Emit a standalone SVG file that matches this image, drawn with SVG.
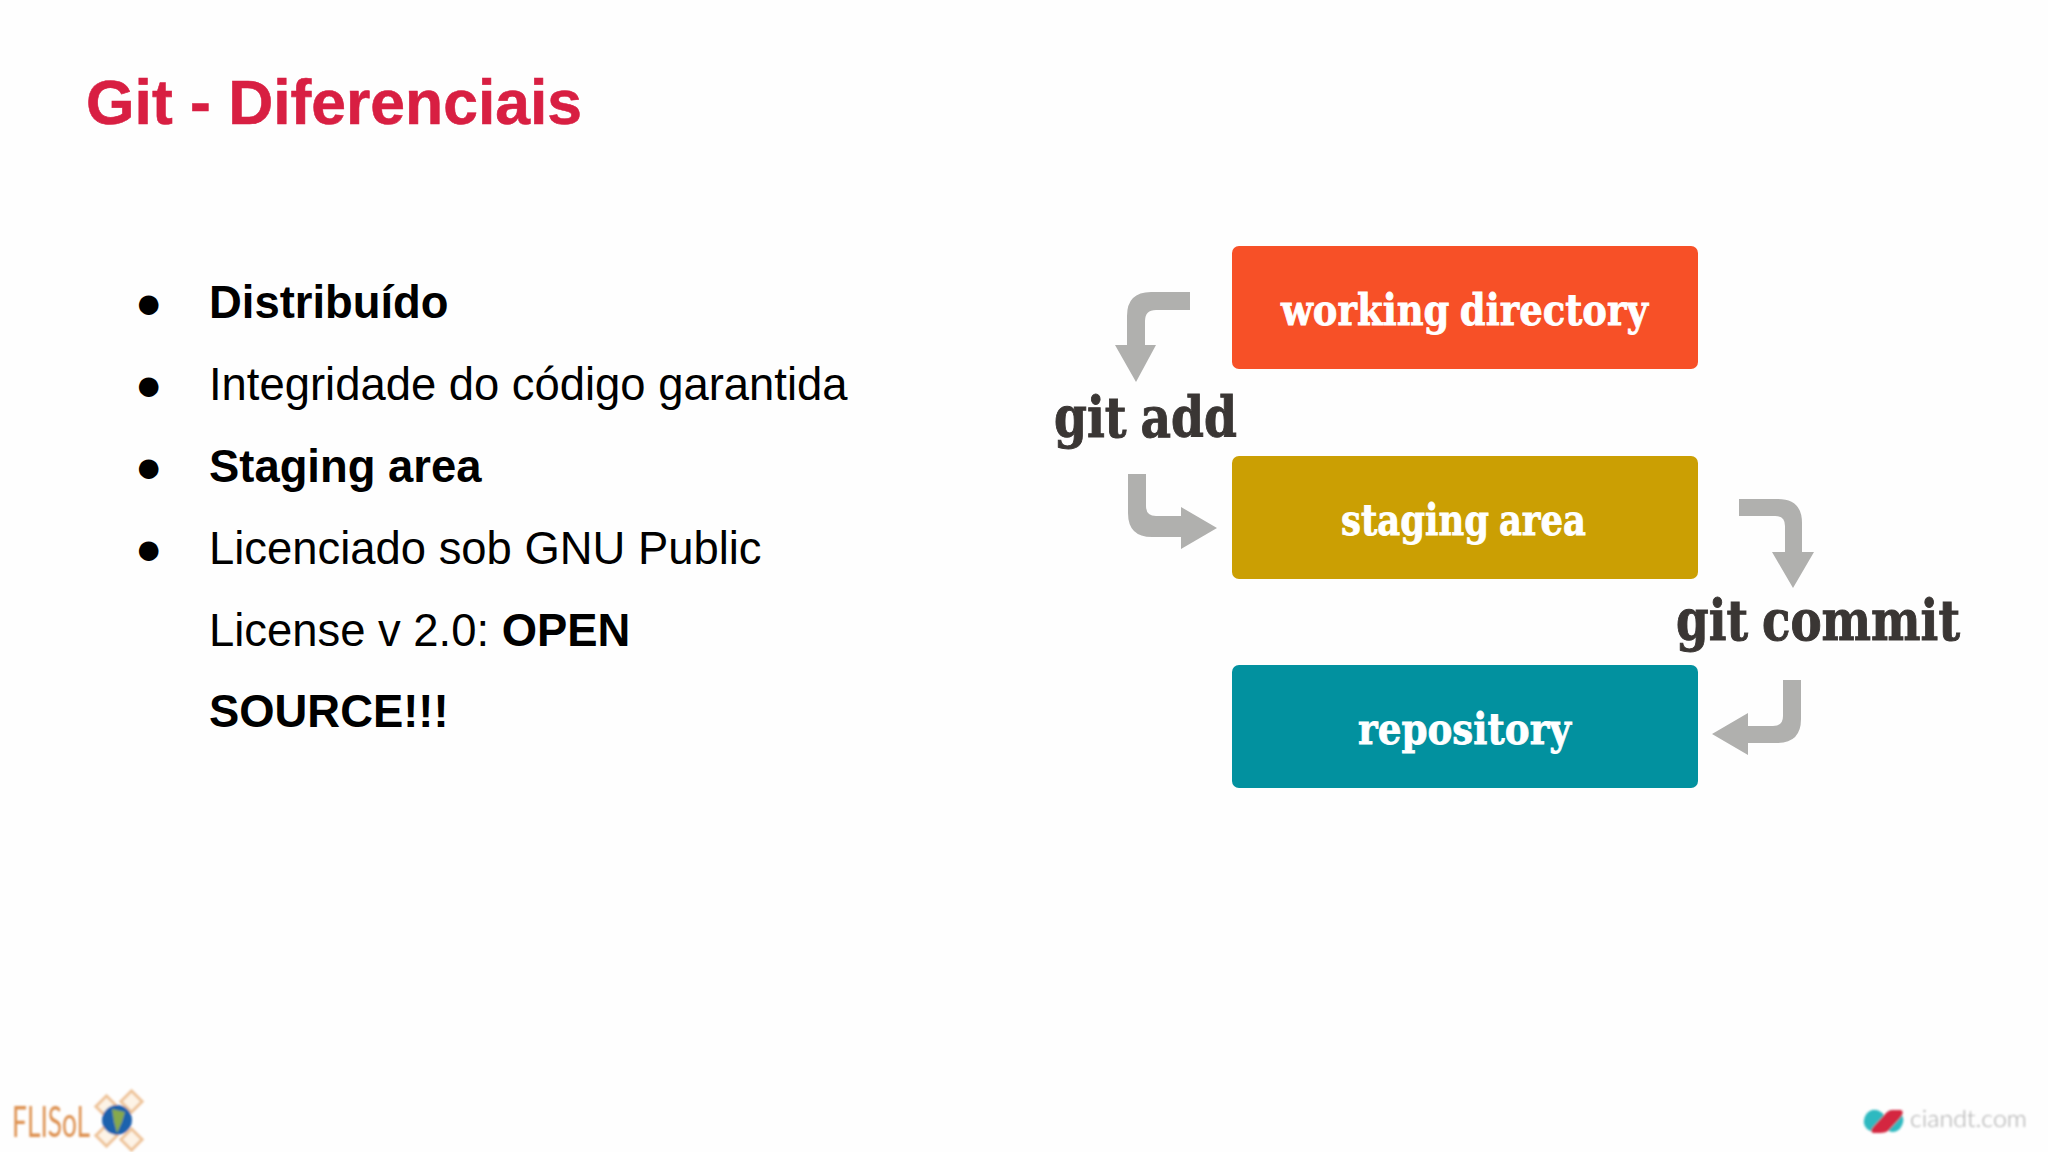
<svg xmlns="http://www.w3.org/2000/svg" width="2048" height="1152" viewBox="0 0 2048 1152">
<style>
.sans{font-family:"Liberation Sans",Arial,sans-serif}
.body{font-size:45.4px;fill:#000}
.b{font-weight:700}
.slab{font-family:"DejaVu Serif",serif;font-weight:700}
.box{font-size:43px;fill:#fff;stroke:#fff;stroke-width:.8;word-spacing:-3px}
.cmd{font-size:56px;fill:#3a3634;stroke:#3a3634;stroke-width:1;word-spacing:-3px}
.arrow{fill:#b0b0ae}
</style>
<defs>
<filter id="soft" x="-10%" y="-10%" width="120%" height="120%"><feGaussianBlur stdDeviation="0.9"/></filter>
</defs>
<rect width="2048" height="1152" fill="#fefefe"/>
<text id="title" class="sans b" x="86" y="124" font-size="63" fill="#d81f42" stroke="#d81f42" stroke-width=".6" textLength="496" lengthAdjust="spacingAndGlyphs">Git - Diferenciais</text>
<g id="bullets" class="sans body">
<text x="135" y="318">●</text>
<text x="135" y="400">●</text>
<text x="135" y="482">●</text>
<text x="135" y="564">●</text>
<text class="b" x="209" y="318">Distribuído</text>
<text x="209" y="400">Integridade do código garantida</text>
<text class="b" x="209" y="482">Staging area</text>
<text x="209" y="564">Licenciado sob GNU Public</text>
<text x="209" y="646">License v 2.0: <tspan class="b">OPEN</tspan></text>
<text class="b" x="209" y="727">SOURCE!!!</text>
</g>
<g id="connectors">
<path class="arrow" d="M1190 292V310H1156Q1145 310 1145 321V345H1156L1136 382L1115 345H1127V316Q1127 292 1151 292Z"/>
<path class="arrow" d="M1128 474H1146V506Q1146 516 1156 516H1181V507L1217 528L1181 549V537H1152Q1128 537 1128 513Z"/>
<path class="arrow" d="M1739 499H1778Q1802 499 1802 523V552H1814L1793 588L1772 552H1785V526Q1785 516 1775 516H1739Z"/>
<path class="arrow" d="M1783 680H1801V719Q1801 743 1777 743H1748V755L1712 734L1748 713V726H1773Q1783 726 1783 716Z"/>
</g>
<g id="working-directory">
<rect x="1232" y="246" width="466" height="123" rx="7" fill="#f75027"/>
<text class="slab box" x="1281" y="325" textLength="367" lengthAdjust="spacingAndGlyphs">working directory</text>
</g>
<g id="staging-area">
<rect x="1232" y="456" width="466" height="123" rx="7" fill="#cb9f03"/>
<text class="slab box" x="1341" y="535" textLength="245" lengthAdjust="spacingAndGlyphs">staging area</text>
</g>
<g id="repository">
<rect x="1232" y="665" width="466" height="123" rx="7" fill="#02919f"/>
<text class="slab box" x="1358" y="744" textLength="213" lengthAdjust="spacingAndGlyphs">repository</text>
</g>
<g id="git-add">
<text class="slab cmd" x="1054" y="437" textLength="183" lengthAdjust="spacingAndGlyphs">git add</text>
</g>
<g id="git-commit">
<text class="slab cmd" x="1676" y="640" textLength="284" lengthAdjust="spacingAndGlyphs">git commit</text>
</g>
<g id="flisol-logo">
<g filter="url(#soft)">
<g fill="#fdf3e6" stroke="#eec49a" stroke-width="3">
<rect x="99" y="1099" width="15" height="15" transform="rotate(45 106.500 1106.500)"/>
<rect x="124" y="1094" width="15" height="15" transform="rotate(45 131.500 1101.500)"/>
<rect x="99" y="1128" width="15" height="15" transform="rotate(45 106.500 1135.500)"/>
<rect x="124" y="1132" width="15" height="15" transform="rotate(45 131.500 1139.500)"/>
</g>
<circle cx="117" cy="1120" r="15" fill="#1f62ad"/>
<path d="M112 1109L125 1112L122 1122L117 1133L114 1122Z" fill="#86a94d"/>
<text x="12" y="1137" font-family="Lato,sans-serif" font-weight="400" font-size="42" fill="#dd9050" textLength="78" lengthAdjust="spacingAndGlyphs">FLISoL</text>
</g>
</g>
<g id="ciandt-logo">
<g filter="url(#soft)">
<rect x="1864" y="1110" width="21" height="22" rx="10" fill="#2eb9c0" transform="rotate(20 1875 1121)"/>
<rect x="1883" y="1110" width="20" height="22" rx="10" fill="#2eb9c0" transform="rotate(20 1893 1121)"/>
<path d="M1892 1110H1901Q1905 1112 1900 1118L1888 1131Q1885 1133 1880 1133H1873Q1869 1131 1874 1126L1886 1113Q1889 1110 1892 1110Z" fill="#d4253f"/>
<text x="1910" y="1127" font-family="Lato,sans-serif" font-weight="300" font-size="24" fill="#a8a8a8" textLength="117" lengthAdjust="spacingAndGlyphs">ciandt.com</text>
</g>
</g>
</svg>
